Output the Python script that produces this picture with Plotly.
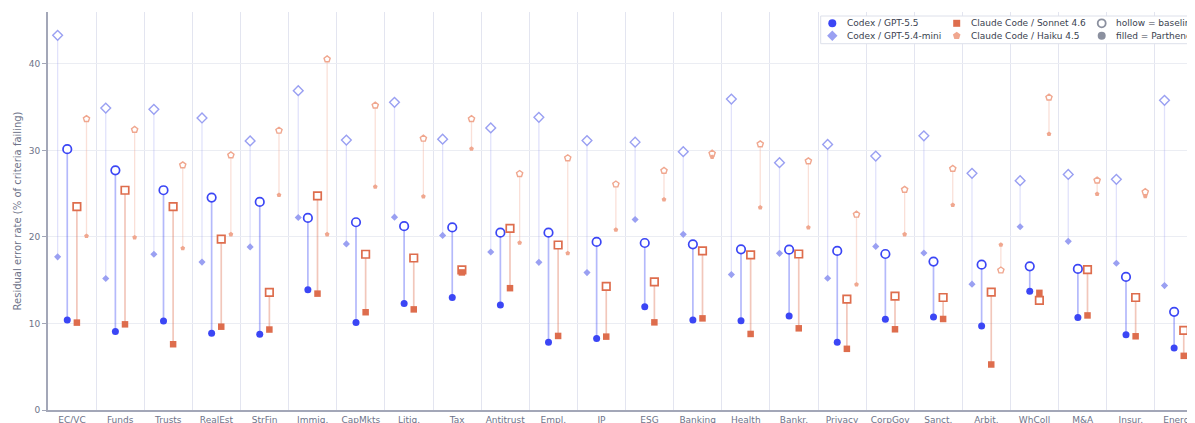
import plotly.graph_objects as go

categories = ["EC/VC", "Funds", "Trusts", "RealEst", "StrFin", "Immig.", "CapMkts", "Litig.",
              "Tax", "Antitrust", "Empl.", "IP", "ESG", "Banking", "Health", "Bankr.",
              "Privacy", "CorpGov", "Sanct.", "Arbit.", "WhColl", "M&A", "Insur.", "Energy"]

gpt55_base = [30.15, 27.7, 25.4, 24.55, 24.05, 22.2, 21.7, 21.25, 21.1, 20.5, 20.5, 19.42,
              19.3, 19.15, 18.57, 18.53, 18.38, 18.03, 17.15, 16.8, 16.61, 16.3, 15.38, 11.35]
gpt55_parth = [10.4, 9.06, 10.3, 8.86, 8.75, 13.9, 10.1, 12.31, 13.0, 12.15, 7.83, 8.25,
               11.93, 10.4, 10.32, 10.86, 7.83, 10.48, 10.75, 9.71, 13.73, 10.7, 8.71, 7.18]
mini_base = [43.3, 34.9, 34.75, 33.75, 31.1, 36.9, 31.2, 35.56, 31.3, 32.6, 33.83, 31.14,
             30.96, 29.85, 35.94, 28.58, 30.69, 29.35, 31.69, 27.35, 26.5, 27.23, 26.66, 35.79]
mini_parth = [17.7, 15.2, 18.0, 17.1, 18.85, 22.25, 19.2, 22.29, 20.18, 18.26, 17.07, 15.88,
              22.02, 20.3, 15.65, 18.11, 15.23, 18.91, 18.15, 14.54, 21.18, 19.49, 16.96, 14.38]
sonnet_base = [23.5, 25.4, 23.5, 19.75, 13.6, 24.75, 18.0, 17.57, 16.2, 21.0, 19.07, 14.28,
               14.81, 18.38, 17.92, 18.03, 12.81, 13.16, 13.0, 13.62, 12.66, 16.23, 13.0, 9.21]
sonnet_parth = [10.1, 9.9, 7.6, 9.63, 9.3, 13.45, 11.3, 11.63, 15.9, 14.08, 8.56, 8.48,
                10.13, 10.59, 8.79, 9.44, 7.07, 9.33, 10.52, 5.26, 13.54, 10.93, 8.52, 6.26]
haiku_base = [33.65, 32.4, 28.3, 29.45, 32.3, 40.55, 35.2, 31.38, 33.64, 27.3, 29.12, 26.09,
              27.66, 29.65, 30.73, 28.77, 22.6, 25.47, 27.89, 16.15, 36.13, 26.54, 25.2, 24.74]
haiku_parth = [20.1, 19.95, 18.7, 20.3, 24.85, 20.3, 25.8, 24.67, 30.2, 19.33, 18.11, 20.83,
               24.32, 29.23, 23.4, 21.1, 14.5, 20.3, 23.7, 19.1, 31.91, 24.97, 24.7, 23.13]

y_ticks = [0, 10, 20, 30, 40]
legend_labels = ["Codex / GPT-5.5", "Codex / GPT-5.4-mini", "Claude Code / Sonnet 4.6",
                 "Claude Code / Haiku 4.5", "hollow = baseline", "filled = Parthenon"]

FONT = "DejaVu Sans"
TXT = "#6e7389"
series = [
    dict(name="Codex / GPT-5.4-mini", base=mini_base, parth=mini_parth, off=-0.3,
         color="#9aa0f2", lcolor="rgba(154,160,242,0.3)", lw=1.3, symbol="diamond",
         hs=7.5, fs=5.5, hlw=1.4),
    dict(name="Codex / GPT-5.5", base=gpt55_base, parth=gpt55_parth, off=-0.1,
         color="#3b46f5", lcolor="rgba(59,70,245,0.38)", lw=1.7, symbol="circle",
         hs=8.5, fs=7, hlw=1.7),
    dict(name="Claude Code / Sonnet 4.6", base=sonnet_base, parth=sonnet_parth, off=0.1,
         color="#de6d4d", lcolor="rgba(222,109,77,0.38)", lw=1.7, symbol="square",
         hs=7.5, fs=6.5, hlw=1.7),
    dict(name="Claude Code / Haiku 4.5", base=haiku_base, parth=haiku_parth, off=0.3,
         color="#f0a78f", lcolor="rgba(240,167,143,0.35)", lw=1.3, symbol="pentagon",
         hs=6.5, fs=5, hlw=1.4),
]

fig = go.Figure()
idx = list(range(len(categories)))

# connecting lines
for s in series:
    xs, ys = [], []
    for i in idx:
        xs += [i + s["off"], i + s["off"], None]
        ys += [s["base"][i], s["parth"][i], None]
    fig.add_trace(go.Scatter(x=xs, y=ys, mode="lines", line=dict(color=s["lcolor"], width=s["lw"]),
                             hoverinfo="skip", showlegend=False))

# hollow (baseline) markers
for s in series:
    fig.add_trace(go.Scatter(x=[i + s["off"] for i in idx], y=s["base"], mode="markers",
                             marker=dict(symbol=s["symbol"], size=s["hs"], color="white", opacity=1,
                                         line=dict(color=s["color"], width=s["hlw"])),
                             name=s["name"] + " baseline", showlegend=False))

# filled (Parthenon) markers
for s in series:
    fig.add_trace(go.Scatter(x=[i + s["off"] for i in idx], y=s["parth"], mode="markers",
                             marker=dict(symbol=s["symbol"], size=s["fs"], color=s["color"], opacity=1),
                             name=s["name"] + " Parthenon", showlegend=False))

# ---- legend (drawn on a pixel-scaled overlay axis, figure pixel coordinates) ----
W, H = 1195, 423
ML, MR, MT, MB = 40, 0, 4, 21
X_RANGE = [-0.5, 23.5]
Y_RANGE = [0, 46]
col_x = [824.3, 948.7, 1093.7]
row_y = [15.3, 27.7]
leg_sym = ["circle", "diamond", "square", "pentagon", "circle", "circle"]
leg_col = ["#3b46f5", "#9aa0f2", "#de6d4d", "#f0a78f", "white", "#8b909f"]
leg_line = [None, None, None, None, "#8b909f", None]
leg_size = [8, 8, 7, 8, 8, 8]
lx, ly = [], []
for k in range(6):
    lx.append(col_x[k // 2])
    ly.append(row_y[k % 2])
fig.add_trace(go.Scatter(
    x=lx, y=ly, xaxis="x2", yaxis="y2", mode="markers", cliponaxis=False, hoverinfo="skip",
    showlegend=False,
    marker=dict(symbol=leg_sym, size=leg_size, color=leg_col, opacity=1,
                line=dict(color=[c if c else "rgba(0,0,0,0)" for c in leg_line],
                          width=[1.8 if c else 0 for c in leg_line]))))
for k, lab in enumerate(legend_labels):
    fig.add_annotation(x=lx[k] + 12.5, y=ly[k], xref="x2", yref="y2", text=lab, showarrow=False,
                       xanchor="left", yanchor="middle", font=dict(size=9, color="#3a3f4f", family=FONT))


# legend box on the main axes (pixel -> axis units), drawn above grid, below traces
def px_to_x(px):
    return X_RANGE[0] + (px - ML) / (W - ML - MR) * (X_RANGE[1] - X_RANGE[0])


def py_to_y(py):
    return Y_RANGE[0] + (H - MB - py) / (H - MT - MB) * (Y_RANGE[1] - Y_RANGE[0])


fig.add_shape(type="rect", xref="x", yref="y", x0=px_to_x(812.7), x1=px_to_x(1230),
              y0=py_to_y(35.7), y1=py_to_y(8),
              line=dict(color="#dde0ea", width=1), fillcolor="white", layer="between")

fig.update_layout(
    width=W, height=H,
    margin=dict(l=ML, r=MR, t=MT, b=MB, autoexpand=False),
    paper_bgcolor="white", plot_bgcolor="white",
    font=dict(family=FONT, size=9, color=TXT),
    showlegend=False,
    xaxis=dict(
        range=X_RANGE, tickmode="array", tickvals=idx, ticktext=categories,
        showgrid=False, zeroline=False, showline=True, linecolor="#a3a7b8", linewidth=2,
        ticks="", tickfont=dict(size=9, color=TXT), automargin=False,
        minor=dict(tickmode="array", tickvals=[i + 0.5 for i in idx], showgrid=True,
                   gridcolor="#e3e5f0", gridwidth=1, ticks=""),
    ),
    yaxis=dict(
        range=Y_RANGE, tickmode="array", tickvals=y_ticks,
        showgrid=True, gridcolor="#ebedf3", gridwidth=1.3, zeroline=False,
        showline=True, linecolor="#a3a7b8", linewidth=2, ticks="outside", ticklen=4,
        tickcolor="#a3a7b8", tickfont=dict(size=9, color=TXT), automargin=False,
        title=dict(text="Residual error rate (% of criteria failing)", font=dict(size=10, color=TXT),
                   standoff=5),
    ),
    xaxis2=dict(overlaying="x", range=[ML, W - MR], visible=False, fixedrange=True),
    yaxis2=dict(overlaying="y", range=[H - MB, MT], visible=False, fixedrange=True),
)

fig.write_html("out.html")
